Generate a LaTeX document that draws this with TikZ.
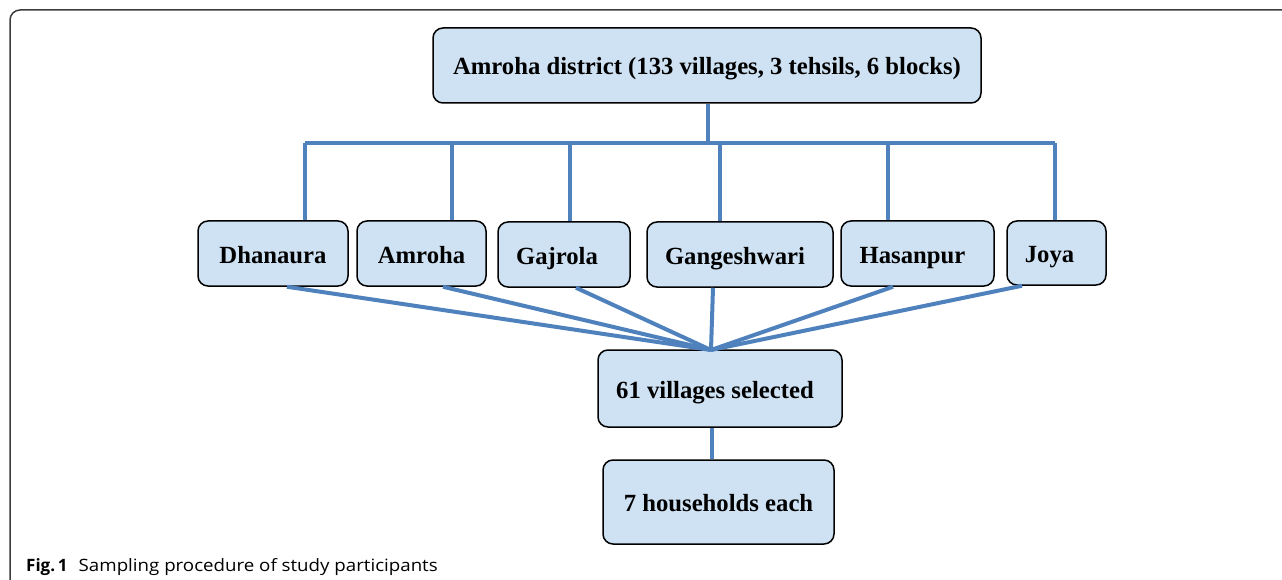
\documentclass[tikz,border=0pt]{standalone}
\usepackage{fontspec}
\setmainfont{Liberation Serif}
\newfontfamily\capfont[FakeStretch=1.1]{Open Sans}
\newfontfamily\capboldfont{Open Sans}
\usetikzlibrary{calc}
\definecolor{boxfill}{RGB}{207,226,243}
\definecolor{linkblue}{RGB}{79,129,189}
\definecolor{framegray}{RGB}{60,60,60}
\newcommand{\txtleft}[2]{\hspace*{-#1pt}#2\hspace*{#1pt}}
\tikzset{
  box/.style={draw=black, line width=1.5pt, fill=boxfill, rounded corners=10pt,
    inner sep=0pt, font=\fontsize{24.7}{29}\selectfont\bfseries,
    text height=24pt, text depth=5pt},
  link/.style={draw=linkblue, line width=4pt},
}
\begin{document}
\begin{tikzpicture}[x=1pt,y=-1pt]
\useasboundingbox (0,0) rectangle (1282,580);
% frame
\draw[framegray, line width=1.5pt, rounded corners=10pt] (10,582) -- (10,10) -- (1284,10);
% nodes
\node[box, minimum width=548pt, minimum height=75pt] (top) at (707,65.5) {Amroha district (133 villages, 3 tehsils, 6 blocks)};
\node[box, minimum width=150pt, minimum height=65pt] (dh) at (273,253.5) {Dhanaura};
\node[box, minimum width=129pt, minimum height=65pt] (am) at (421.5,253.5) {Amroha};
\node[box, minimum width=132pt, minimum height=65pt] (ga) at (564,254.5) {\txtleft{7}{Gajrola}};
\node[box, minimum width=186pt, minimum height=65pt] (gg) at (740,254.5) {\txtleft{5}{Gangeshwari}};
\node[box, minimum width=153pt, minimum height=65pt] (ha) at (917.5,253.5) {\txtleft{5}{Hasanpur}};
\node[box, minimum width=99pt, minimum height=64pt] (jo) at (1056.5,253) {\txtleft{7}{Joya}};
\node[box, minimum width=244pt, minimum height=77pt] (vs) at (720,388.5) {\txtleft{5}{61 villages selected}};
\node[box, minimum width=231pt, minimum height=84pt] (hh) at (718.5,502) {7 households each};
% bus coordinates
\coordinate (b0) at (708,143);
\coordinate (b1) at (305,143);
\coordinate (b2) at (452,143);
\coordinate (b3) at (570,143);
\coordinate (b4) at (720,143);
\coordinate (b5) at (888,143);
\coordinate (b6) at (1055,143);
% top connectors
\draw[link] (b0 |- top.south) -- (b0);
\draw[link] (b1) -- (b6);
\draw[link] (b1) -- (b1 |- dh.north);
\draw[link] (b2) -- (b2 |- am.north);
\draw[link] (b3) -- (b3 |- ga.north);
\draw[link] (b4) -- (b4 |- gg.north);
\draw[link] (b5) -- (b5 |- ha.north);
\draw[link] (b6) -- (b6 |- jo.north);
% fan to selected villages
\coordinate (cv) at (711,350);
\coordinate (f1) at (287,0);
\coordinate (f2) at (443,0);
\coordinate (f3) at (576,0);
\coordinate (f4) at (713,0);
\coordinate (f5) at (893,0);
\coordinate (f6) at (1022,0);
\draw[link] (f1 |- dh.south) -- (cv);
\draw[link] (f2 |- am.south) -- (cv);
\draw[link] (f3 |- ga.south) -- (cv);
\draw[link] (f4 |- gg.south) -- (cv);
\draw[link] (f5 |- ha.south) -- (cv);
\draw[link] (f6 |- jo.south) -- (cv);
\coordinate (v1) at (712,0);
\draw[link] (v1 |- vs.south) -- (v1 |- hh.north);
% caption
\node[anchor=base west, inner sep=0pt, font=\fontsize{17}{20}\selectfont] (cap) at (26,571)
  {{\capboldfont\bfseries Fig.\,1}\hspace{11pt}{\capfont Sampling procedure of study participants}};
\end{tikzpicture}
\end{document}
